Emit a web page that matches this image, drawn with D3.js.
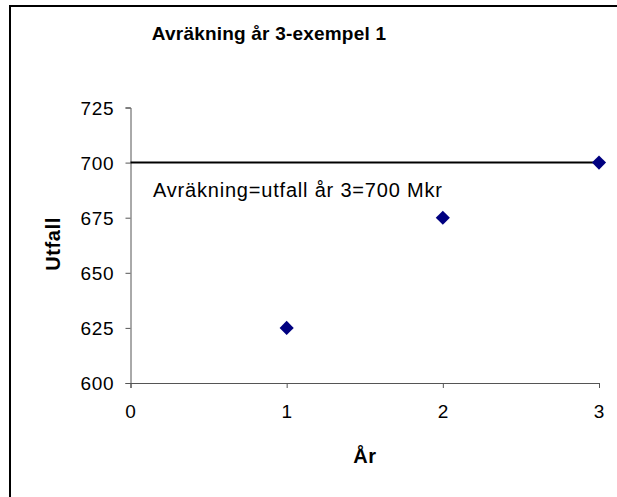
<!DOCTYPE html>
<html>
<head>
<meta charset="utf-8">
<script src="https://cdn.jsdelivr.net/npm/d3@7"></script>
<style>
  body { margin: 0; background: #fff; }
  svg { display: block; font-family: 'Liberation Sans', Arial, sans-serif; }
</style>
</head>
<body>
<div class="chart"></div>
<script>
const years = [1, 2, 3];
const outcome = [625, 675, 700];
const refYears = [0, 3];
const refValues = [700, 700];
const xTicks = [0, 1, 2, 3];
const yTicks = [600, 625, 650, 675, 700, 725];

const width = 617;
const height = 497;

const svg = d3
  .select('.chart')
  .append('svg')
  .attr('width', width)
  .attr('height', height);

// outer frame (cut off at right and bottom)
svg
  .append('rect')
  .attr('x', 10)
  .attr('y', 6)
  .attr('width', 700)
  .attr('height', 600)
  .attr('fill', 'none')
  .attr('stroke', '#000')
  .attr('stroke-width', 2);

const xScale = d3.scaleLinear().domain([0, 3]).range([130.5, 599]);
const yScale = d3.scaleLinear().domain([600, 725]).range([383, 107.5]);

const xAxis = d3
  .axisBottom(xScale)
  .tickValues(xTicks)
  .tickSize(5)
  .tickPadding(17)
  .tickFormat(d3.format('d'));

const yAxis = d3
  .axisLeft(yScale)
  .tickValues(yTicks)
  .tickSize(5)
  .tickPadding(11)
  .tickFormat(d3.format('d'));

const xAxisGroup = svg
  .append('g')
  .attr('transform', `translate(0, ${yScale(600)})`)
  .call(xAxis);

const yAxisGroup = svg
  .append('g')
  .attr('transform', `translate(${xScale(0)}, 0)`)
  .call(yAxis);

[xAxisGroup, yAxisGroup].forEach((g) => {
  g.select('.domain').attr('stroke', '#555');
  g.selectAll('.tick line').attr('stroke', '#555');
  g.selectAll('.tick text')
    .attr('fill', '#000')
    .style('font-size', '19px')
    .style('letter-spacing', '0.8px')
    .style('font-family', "'Liberation Sans', Arial, sans-serif");
});
yAxisGroup.selectAll('.tick text').attr('dy', '0.36em');

// reference line at 700
const refData = refYears.map((d, i) => ({ x: d, y: refValues[i] }));
svg
  .append('path')
  .datum(refData)
  .attr('fill', 'none')
  .attr('stroke', '#000')
  .attr('stroke-width', 2)
  .attr(
    'd',
    d3
      .line()
      .x((d) => xScale(d.x))
      .y((d) => yScale(d.y))
  );

// markers
const diamond = d3.symbol().type(d3.symbolSquare).size(100);
svg
  .selectAll('.pt')
  .data(years.map((d, i) => ({ x: d, y: outcome[i] })))
  .enter()
  .append('path')
  .attr('class', 'pt')
  .attr('d', diamond)
  .attr('transform', (d) => `translate(${xScale(d.x)}, ${yScale(d.y)}) rotate(45)`)
  .attr('fill', '#000080');

svg
  .append('text')
  .attr('x', 269)
  .attr('y', 40)
  .attr('text-anchor', 'middle')
  .style('font-size', '19px')
  .style('font-weight', 'bold')
  .style('letter-spacing', '0.2px')
  .text('Avräkning år 3-exempel 1');

svg
  .append('text')
  .attr('x', 153)
  .attr('y', 197)
  .style('font-size', '20px')
  .style('letter-spacing', '0.8px')
  .text('Avräkning=utfall år 3=700 Mkr');

svg
  .append('text')
  .attr('x', 365)
  .attr('y', 463)
  .attr('text-anchor', 'middle')
  .style('font-size', '20px')
  .style('font-weight', 'bold')
  .style('letter-spacing', '0.6px')
  .text('År');

svg
  .append('text')
  .attr('transform', 'translate(60, 244) rotate(-90)')
  .attr('text-anchor', 'middle')
  .style('font-size', '20px')
  .style('font-weight', 'bold')
  .style('letter-spacing', '0.6px')
  .text('Utfall');
</script>
</body>
</html>
